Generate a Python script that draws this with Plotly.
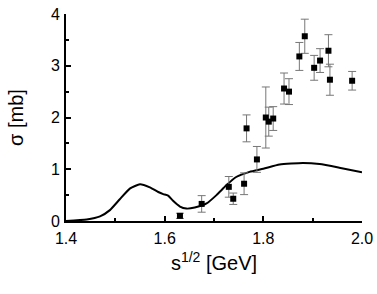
import plotly.graph_objects as go

# experimental data
data_x = [1.631, 1.675, 1.730, 1.739, 1.761, 1.766, 1.787, 1.805, 1.811, 1.820,
          1.842, 1.852, 1.873, 1.884, 1.903, 1.915, 1.932, 1.935, 1.980]
data_y = [0.10, 0.33, 0.66, 0.43, 0.72, 1.79, 1.19, 2.00, 1.92, 1.98,
          2.56, 2.50, 3.18, 3.57, 2.96, 3.10, 3.29, 2.73, 2.71]
data_err = [0.05, 0.16, 0.20, 0.11, 0.21, 0.26, 0.25, 0.59, 0.28, 0.23,
            0.30, 0.25, 0.27, 0.33, 0.24, 0.23, 0.31, 0.30, 0.18]

# theoretical curve
curve_x = [1.400, 1.442, 1.469, 1.489, 1.509, 1.530, 1.550, 1.570, 1.587, 1.597,
           1.607, 1.617, 1.631, 1.644, 1.661, 1.685, 1.705, 1.725, 1.745, 1.772,
           1.800, 1.833, 1.880, 1.914, 1.954, 2.000]
curve_y = [0.00, 0.03, 0.09, 0.21, 0.42, 0.63, 0.71, 0.65, 0.56, 0.52,
           0.49, 0.39, 0.28, 0.24, 0.26, 0.34, 0.50, 0.69, 0.85, 0.95,
           1.01, 1.09, 1.12, 1.10, 1.03, 0.94]

fig = go.Figure()
fig.add_trace(go.Scatter(x=curve_x, y=curve_y, mode="lines",
                         line=dict(color="black", width=2, shape="spline", smoothing=0.5),
                         showlegend=False, hoverinfo="skip"))
fig.add_trace(go.Scatter(x=data_x, y=data_y, mode="markers",
                         marker=dict(symbol="square", size=6, color="black"),
                         error_y=dict(type="data", array=data_err, visible=True,
                                      color="#777777", thickness=1, width=4),
                         showlegend=False))

font_family = "Liberation Sans, Arial, sans-serif"
fig.update_layout(
    width=377, height=294,
    margin=dict(l=66, r=15, t=14, b=73, autoexpand=False),
    paper_bgcolor="white", plot_bgcolor="white",
    font=dict(family=font_family, color="black", size=16),
    xaxis=dict(range=[1.4, 2.0], tickvals=[1.4, 1.6, 1.8, 2.0],
               ticktext=["1.4", "1.6", "1.8", "2.0"], automargin=False,
               ticks="inside", ticklen=5, tickwidth=1.5, tickcolor="black",
               minor=dict(ticks="inside", ticklen=3, tickwidth=1.5, tickcolor="black", dtick=0.1, showgrid=False),
               showline=True, linecolor="black", linewidth=2, showgrid=False, zeroline=False,
               tickfont=dict(size=16), ticklabelstandoff=2,
               title=dict(text="s<sup>1/2</sup> [GeV]", font=dict(size=20), standoff=10)),
    yaxis=dict(range=[0, 4], tickvals=[0, 1, 2, 3, 4], automargin=False,
               ticks="inside", ticklen=5, tickwidth=1.5, tickcolor="black",
               minor=dict(ticks="inside", ticklen=3, tickwidth=1.5, tickcolor="black", dtick=0.5, showgrid=False),
               showline=True, linecolor="black", linewidth=2, showgrid=False, zeroline=False,
               tickfont=dict(size=16), ticklabelstandoff=1,
               title=dict(text="σ [mb]", font=dict(size=20), standoff=22)),
)
fig.write_html("out.html", config={"displayModeBar": False},
               post_script="document.body.style.margin='0';document.body.style.overflow='hidden';")
